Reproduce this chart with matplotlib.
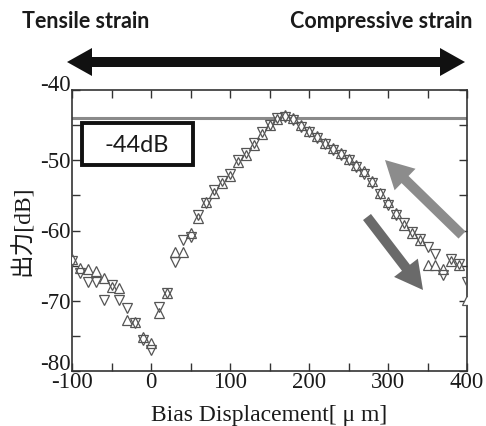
import matplotlib.pyplot as plt
from matplotlib.patches import FancyArrow, Rectangle
from matplotlib.ticker import MultipleLocator

# bias displacement [um]
bias = [-100, -90, -80, -70, -60, -50, -40, -30, -20, -10, 0, 10, 20, 30, 40, 50,
        60, 70, 80, 90, 100, 110, 120, 130, 140, 150, 160, 170, 180, 190, 200,
        210, 220, 230, 240, 250, 260, 270, 280, 290, 300, 310, 320, 330, 340,
        350, 360, 370, 380, 390, 400]

# output [dB], sweep toward compressive (up triangles)
out_up = [-64.0, -65.3, -65.5, -65.8, -66.7, -68.0, -68.2, -72.7, -73.0, -75.1,
          -76.0, -71.7, -68.9, -63.0, -63.0, -60.3, -58.2, -55.9, -54.7, -53.3,
          -52.3, -50.2, -49.2, -47.8, -46.2, -45.0, -44.1, -43.6, -44.0, -45.0,
          -45.8, -46.6, -47.5, -48.3, -49.0, -49.8, -50.7, -51.6, -53.0, -54.6,
          -56.0, -57.5, -59.2, -60.3, -61.3, -64.9, -64.9, -65.5, -64.3, -64.9,
          -69.9]

# output [dB], sweep back (down triangles)
out_down = [-64.3, -66.0, -67.3, -67.3, -69.9, -67.7, -69.9, -71.0, -73.1, -75.6,
            -77.0, -70.9, -68.9, -64.5, -61.3, -60.9, -57.8, -56.1, -54.3, -53.0,
            -52.0, -50.0, -49.0, -47.6, -46.0, -45.0, -44.0, -43.9, -44.2, -45.2,
            -46.0, -46.8, -47.7, -48.5, -49.2, -50.0, -51.0, -52.0, -53.3, -54.8,
            -56.3, -57.8, -59.0, -60.2, -61.2, -62.3, -63.3, -66.3, -64.0, -64.7,
            -67.3]

yticks = [-80, -70, -60, -50, -40]
ytick_labels = ['', '-70', '-60', '-50', '']  # end labels placed by hand below
ref_level = -44

plt.rcParams['axes.unicode_minus'] = False

W, H = 486, 426
fig = plt.figure(figsize=(W / 100, H / 100), dpi=100)
ax = fig.add_axes([72 / W, 1 - 371 / H, 395 / W, 281 / H])

serif = ['Liberation Serif', 'Noto Sans CJK JP']

ax.axhline(ref_level, color='#8a8a8a', lw=2.2, zorder=1)
ax.plot(bias, out_up, ls='none', marker='^', ms=7, mfc='white', mec='#555555', mew=0.9, zorder=3)
ax.plot(bias, out_down, ls='none', marker='v', ms=7, mfc='none', mec='#555555', mew=0.9, zorder=4)

ax.set_xlim(-100, 400)
ax.set_ylim(-80, -40)
ax.xaxis.set_major_locator(MultipleLocator(100))
ax.xaxis.set_minor_locator(MultipleLocator(50))
ax.set_yticks(yticks, ytick_labels)
ax.yaxis.set_minor_locator(MultipleLocator(5))
ax.tick_params(which='both', direction='in', top=True, right=True, color='#333333')
ax.tick_params(which='major', length=6, width=1, labelsize=16.5, labelcolor='#1a1a1a')
ax.tick_params(axis='x', which='major', pad=1)
ax.tick_params(axis='y', which='major', pad=1)
ax.tick_params(which='minor', length=6, width=1)
for lab in ax.get_xticklabels() + ax.get_yticklabels():
    lab.set_family(serif)
for s in ax.spines.values():
    s.set_color('#333333')
    s.set_linewidth(1.2)

# top and bottom y labels sit above their ticks, as in the original
ax.annotate('-40', xy=(0, 1), xycoords='axes fraction', xytext=(-1, -4), textcoords='offset points',
            ha='right', va='bottom', fontsize=16.5, family=serif, color='#1a1a1a')
ax.annotate('-80', xy=(0, 0), xycoords='axes fraction', xytext=(-1, -3), textcoords='offset points',
            ha='right', va='bottom', fontsize=16.5, family=serif, color='#1a1a1a')

ax.set_xlabel('Bias Displacement[ μ m]', family=serif, fontsize=17, labelpad=8, color='#1a1a1a')
ax.set_ylabel('出力[dB]', family=serif, fontsize=17, color='#1a1a1a')
ax.yaxis.set_label_coords(-38 / 395, 0.5)

# overlay in pixel coordinates for the annotations
ov = fig.add_axes([0, 0, 1, 1], zorder=5)
ov.set_xlim(0, W)
ov.set_ylim(H, 0)
ov.axis('off')
ov.patch.set_alpha(0)

ov.text(22, 22, 'Tensile strain', fontsize=15.5, fontweight='bold', family='Lato', va='center', ha='left', color='#1a1a1a')
ov.text(472, 22, 'Compressive strain', fontsize=15.5, fontweight='bold', family='Lato', va='center', ha='right', color='#1a1a1a')

mid = 266
ov.add_patch(FancyArrow(mid, 62, 465 - mid, 0, width=10, head_width=28, head_length=25,
                        length_includes_head=True, color='#111111', lw=0))
ov.add_patch(FancyArrow(mid, 62, 67 - mid, 0, width=10, head_width=28, head_length=25,
                        length_includes_head=True, color='#111111', lw=0))

ov.add_patch(FancyArrow(462, 235, 385 - 462, 160 - 235, width=10, head_width=30, head_length=28,
                        length_includes_head=True, color='#8c8c8c', lw=0))
ov.add_patch(FancyArrow(367, 217, 423 - 367, 290 - 217, width=10, head_width=30, head_length=28,
                        length_includes_head=True, color='#6a6a6a', lw=0))

ov.add_patch(Rectangle((82, 123), 111, 42, fill=True, fc='white', ec='#111111', lw=2.8))
ov.text(137, 145, '-44dB', fontsize=17, family='Lato', ha='center', va='center', color='#1a1a1a')

fig.savefig('out.png', dpi=100)
